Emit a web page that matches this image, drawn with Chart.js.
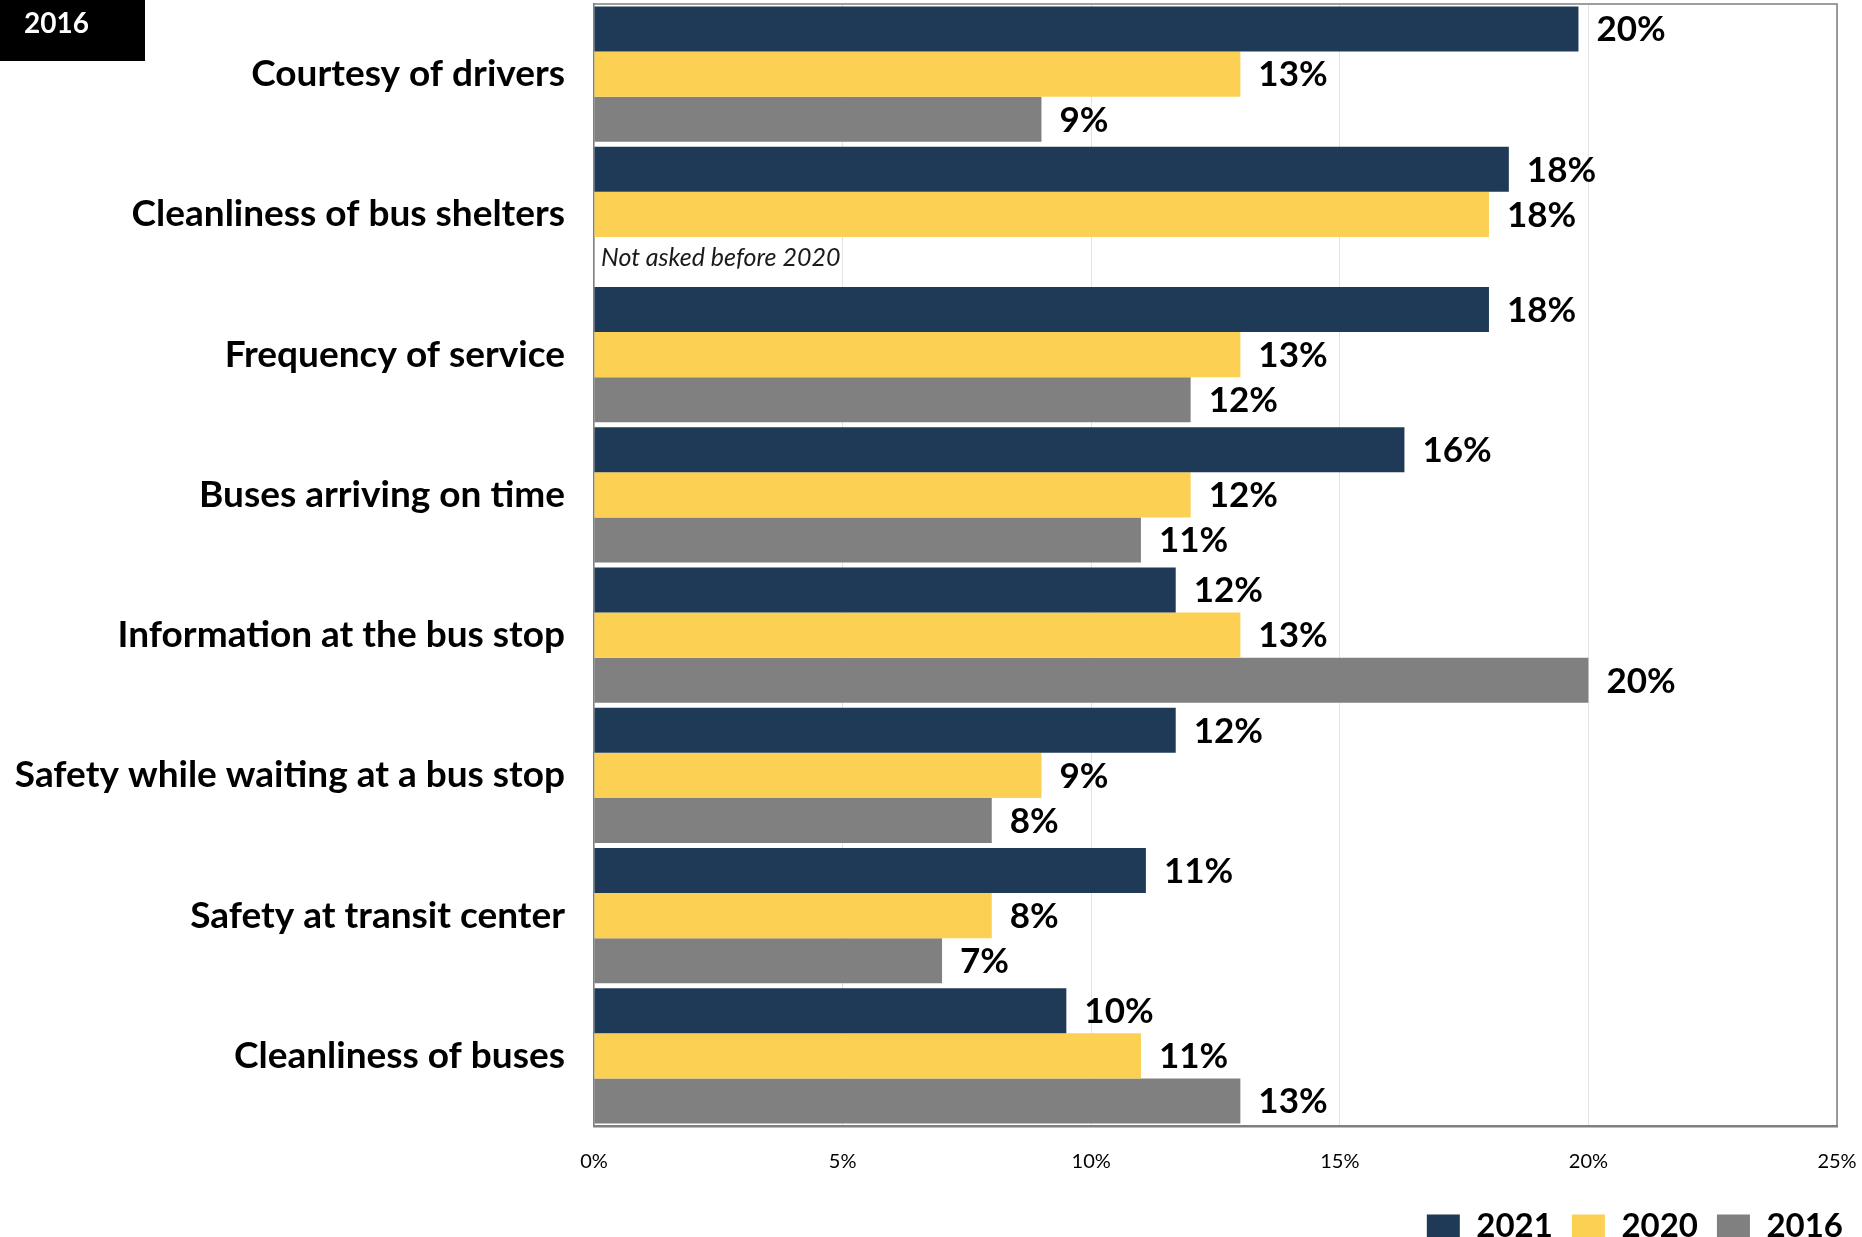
<!DOCTYPE html>
<html>
<head>
<meta charset="utf-8">
<script src="https://cdn.jsdelivr.net/npm/chart.js@4.4.0/dist/chart.umd.min.js"></script>
<style>
    body { margin: 0; background: #ffffff; }
    .chart-box { position: relative; width: 1862px; height: 1237px; }
</style>
</head>
<body>
<div class="chart-box">
    <canvas id="priority-chart"></canvas>
</div>
<script>
// Data
let categories = ['Courtesy of drivers', 'Cleanliness of bus shelters', 'Frequency of service', 'Buses arriving on time',
    'Information at the bus stop', 'Safety while waiting at a bus stop', 'Safety at transit center', 'Cleanliness of buses'];
let data2021 = [19.8, 18.4, 18.0, 16.3, 11.7, 11.7, 11.1, 9.5];
let data2020 = [13.0, 18.0, 13.0, 12.0, 13.0, 9.0, 8.0, 11.0];
let data2016 = [9.0, null, 12.0, 11.0, 20.0, 8.0, 7.0, 13.0];
let xTicks = [0, 5, 10, 15, 20, 25];

let navyColor = '#1f3a56';
let yellowColor = '#fcd052';
let greyColor = '#808080';
let borderGrey = '#7f7f7f';

Chart.defaults.font.family = 'Lato, "Open Sans", sans-serif';

// value labels at the end of every bar, plus frame and notes
let extrasPlugin = {
    id: 'extras',
    afterDatasetsDraw(chart) {
        let ctx = chart.ctx;
        let area = chart.chartArea;

        ctx.save();
        ctx.strokeStyle = borderGrey;
        ctx.lineWidth = 1.5;
        ctx.beginPath();
        ctx.moveTo(area.left, area.top);
        ctx.lineTo(area.right, area.top);
        ctx.lineTo(area.right, area.bottom);
        ctx.stroke();

        ctx.font = 'bold 35px Lato';
        ctx.fillStyle = '#000000';
        ctx.textAlign = 'left';
        ctx.textBaseline = 'middle';
        chart.data.datasets.forEach(function (ds, i) {
            let meta = chart.getDatasetMeta(i);
            meta.data.forEach(function (bar, j) {
                let v = ds.data[j];
                if (v === null) return;
                ctx.fillText(Math.round(v) + '%', bar.x + 18, bar.y + 1);
            });
        });

        // empty 2016 slot note
        let missing = chart.getDatasetMeta(1).data[1];
        ctx.font = 'italic 25px Lato';
        ctx.fillStyle = '#1a1a1a';
        ctx.fillText('Not asked before 2020', area.left + 7, missing.y + missing.height - 2);

        // year tag in the corner
        ctx.fillStyle = '#000000';
        ctx.fillRect(0, 0, 145, 61);
        ctx.font = 'bold 28px Lato';
        ctx.fillStyle = '#ffffff';
        ctx.fillText('2016', 24, 24);
        ctx.restore();
    }
};

let priorityCtx = document.getElementById('priority-chart').getContext('2d');

let priorityChart = new Chart(priorityCtx, {
    type: 'bar',
    data: {
        labels: categories,
        datasets: [{
            label: '2021',
            data: data2021,
            backgroundColor: navyColor,
            categoryPercentage: 0.965,
            barPercentage: 1.0
        },
        {
            label: '2020',
            data: data2020,
            backgroundColor: yellowColor,
            categoryPercentage: 0.965,
            barPercentage: 1.0
        },
        {
            label: '2016',
            data: data2016,
            backgroundColor: greyColor,
            categoryPercentage: 0.965,
            barPercentage: 1.0
        }]
    },
    options: {
        indexAxis: 'y',
        responsive: true,
        maintainAspectRatio: false,
        animation: false,
        events: [],
        layout: {
            padding: {
                top: 4,
                right: 0,
                bottom: -16,
                left: 0
            }
        },
        scales: {
            x: {
                min: 0,
                max: 25,
                afterBuildTicks: function (scale) {
                    scale.ticks = xTicks.map(function (v) { return { value: v }; });
                },
                afterFit: function (scale) {
                    scale.paddingLeft = 0;
                    scale.paddingRight = 25;
                    scale.height = scale.height - 7;
                },
                ticks: {
                    callback: function (v) { return v + '%'; },
                    color: '#000000',
                    font: { size: 20 },
                    padding: 24
                },
                grid: {
                    color: '#e3e3e3',
                    lineWidth: 1,
                    drawTicks: false
                },
                border: {
                    color: borderGrey,
                    width: 2.5
                }
            },
            y: {
                afterFit: function (scale) {
                    scale.width = 594;
                    scale.paddingTop = 0;
                    scale.paddingBottom = 0;
                },
                ticks: {
                    color: '#000000',
                    font: { size: 37, weight: 'bold' },
                    padding: 29
                },
                grid: {
                    display: false,
                    drawTicks: false
                },
                border: {
                    color: borderGrey,
                    width: 1.5
                }
            }
        },
        plugins: {
            legend: {
                position: 'bottom',
                align: 'end',
                labels: {
                    color: '#000000',
                    boxWidth: 33,
                    boxHeight: 24,
                    padding: 19,
                    font: { size: 33, weight: 'bold' }
                }
            },
            tooltip: { enabled: false }
        }
    },
    plugins: [extrasPlugin]
});
</script>
</body>
</html>
